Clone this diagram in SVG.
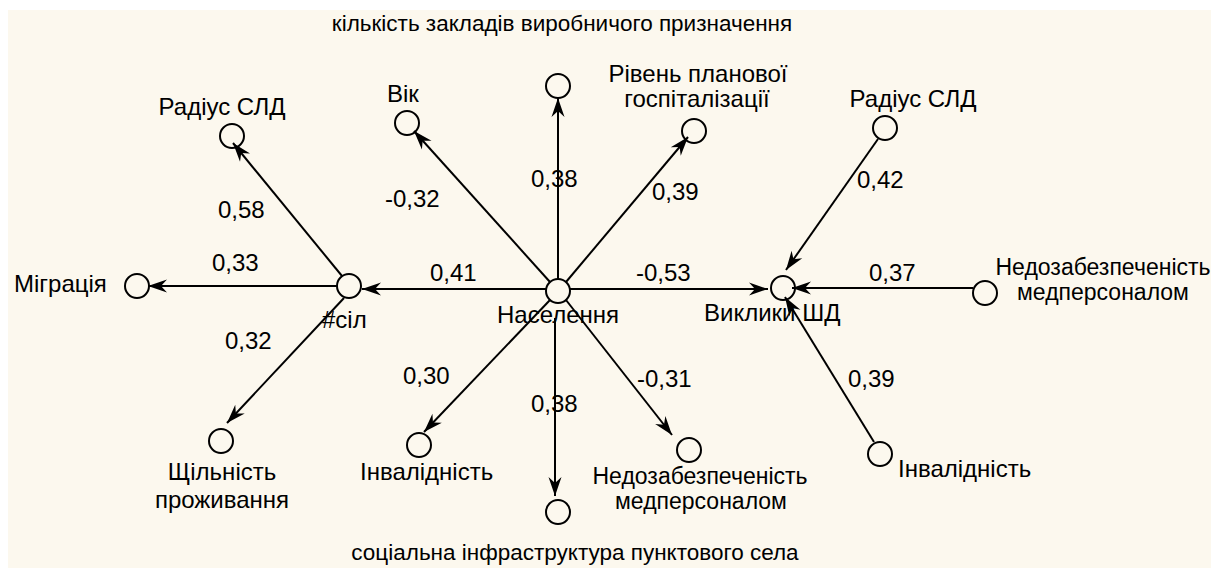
<svg xmlns="http://www.w3.org/2000/svg" width="1211" height="568" viewBox="0 0 1211 568">
<style>
text{font-family:"Liberation Sans",Arial,sans-serif;font-size:24px;fill:#000}
.t{font-size:22.5px}
.s{font-size:23px}
.c{text-anchor:middle}
.n{fill:none;stroke:#000;stroke-width:2}
.e{stroke:#000;stroke-width:2;fill:none;marker-end:url(#a)}
</style>
<defs>
<marker id="a" markerUnits="userSpaceOnUse" markerWidth="24" markerHeight="16" viewBox="-20 -8 22 16" refX="0" refY="0" orient="auto">
<path d="M0,0 L-19,-6.5 L-13,0 L-19,6.5 Z" fill="#000"/>
</marker>
</defs>
<rect x="0" y="0" width="1211" height="568" fill="#fff"/>
<rect x="8" y="10" width="1203" height="558" fill="#fcf8ee"/>
<g id="connectors">
<line class="e" x1="558" y1="279" x2="558" y2="98"/>
<line class="e" x1="550" y1="282" x2="414" y2="131"/>
<line class="e" x1="566" y1="282" x2="688" y2="137"/>
<line class="e" x1="546" y1="289" x2="362" y2="289"/>
<line class="e" x1="570" y1="289" x2="768" y2="289"/>
<line class="e" x1="550" y1="300" x2="424" y2="432"/>
<line class="e" x1="555" y1="318" x2="555" y2="496"/>
<line class="e" x1="566" y1="300" x2="672" y2="435"/>
<line class="e" x1="342" y1="276" x2="233" y2="143"/>
<line class="e" x1="337" y1="286" x2="148" y2="286"/>
<line class="e" x1="344" y1="298" x2="227" y2="423"/>
<line class="e" x1="878" y1="139" x2="786" y2="270"/>
<line class="e" x1="973" y1="288" x2="792" y2="288"/>
<line class="e" x1="874" y1="442" x2="785" y2="297"/>
</g>
<g id="labels">
<text x="218" y="218">0,58</text>
<text x="212" y="271">0,33</text>
<text x="225" y="349">0,32</text>
<text x="385" y="207">-0,32</text>
<text x="531" y="187">0,38</text>
<text x="652" y="200">0,39</text>
<text x="430" y="281">0,41</text>
<text x="636" y="281">-0,53</text>
<text x="857" y="188">0,42</text>
<text x="869" y="281">0,37</text>
<text x="848" y="387">0,39</text>
<text x="403" y="384">0,30</text>
<text x="637" y="387">-0,31</text>
<text x="531" y="412">0,38</text>
</g>
<text class="t c" x="562" y="31">кількість закладів виробничого призначення</text>
<text class="t c" x="575" y="560">соціальна інфраструктура пунктового села</text>
<g id="n-naselennia"><circle class="n" cx="558" cy="291" r="12"/><text class="c" x="558" y="323">Населення</text></g>
<g id="n-top"><circle class="n" cx="558" cy="86" r="12"/></g>
<g id="n-vik"><circle class="n" cx="407" cy="123" r="12"/><text x="387" y="102">Вік</text></g>
<g id="n-riven"><circle class="n" cx="694" cy="131" r="12"/><text class="c" x="698" y="82">Рівень планової</text><text class="c" x="697" y="107">госпіталізації</text></g>
<g id="n-sil"><circle class="n" cx="349" cy="286" r="12"/><text x="322" y="328">#сіл</text></g>
<g id="n-migr"><circle class="n" cx="137" cy="286" r="12"/><text x="14" y="292">Міграція</text></g>
<g id="n-radius-l"><circle class="n" cx="232" cy="136" r="12"/><text class="c" x="222" y="115">Радіус СЛД</text></g>
<g id="n-shchil"><circle class="n" cx="221" cy="441" r="12"/><text class="c" x="222" y="480">Щільність</text><text class="c" x="222" y="508">проживання</text></g>
<g id="n-inv-l"><circle class="n" cx="419" cy="445" r="12"/><text x="360" y="480">Інвалідність</text></g>
<g id="n-bottom"><circle class="n" cx="558" cy="512" r="12"/></g>
<g id="n-nedo-b"><circle class="n" cx="689" cy="450" r="12"/><text class="c s" x="700" y="484">Недозабезпеченість</text><text class="c s" x="701" y="509">медперсоналом</text></g>
<g id="n-vyklyky"><circle class="n" cx="783" cy="288" r="12"/><text x="704" y="321">Виклики ШД</text></g>
<g id="n-radius-r"><circle class="n" cx="885" cy="128" r="12"/><text class="c" x="913" y="107">Радіус СЛД</text></g>
<g id="n-nedo-r"><circle class="n" cx="985" cy="293" r="12"/><text class="c s" x="1103" y="275">Недозабезпеченість</text><text class="c s" x="1103" y="300">медперсоналом</text></g>
<g id="n-inv-r"><circle class="n" cx="880" cy="454" r="12"/><text x="898" y="477">Інвалідність</text></g>
</svg>
